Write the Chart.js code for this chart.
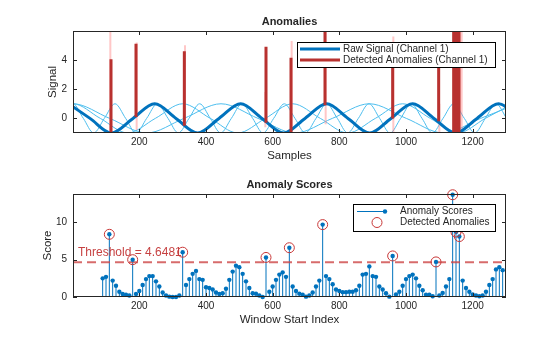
<!DOCTYPE html>
<html>
<head>
<meta charset="utf-8">
<script src="https://cdn.jsdelivr.net/npm/chart.js@4.4.1/dist/chart.umd.min.js"></script>
<style>
  html, body { margin: 0; padding: 0; background: #fff; }
  #wrap { position: relative; width: 560px; height: 337px; }
  canvas { position: absolute; left: 0; }
  #top { top: 0; }
  #bot { top: 168px; }
</style>
</head>
<body>
<div id="wrap">
  <canvas id="top" width="560" height="168" style="width:560px;height:168px"></canvas>
  <canvas id="bot" width="560" height="169" style="width:560px;height:169px"></canvas>
</div>
<script>
// shared x axis
const xMin = 1, xMax = 1300;
const xTicks = [200, 400, 600, 800, 1000, 1200];

// top plot: channel 1 (thick) key points, peaks / zero crossings / troughs
const ch1X = [-12, 52, 116, 181, 246, 310, 375, 439, 504, 568, 633, 697, 762, 826, 891, 955, 1020, 1084, 1149, 1213, 1278, 1342];
const ch1Y = [1, 0, -1, 0, 1, 0, -1, 0, 1, 0, -1, 0, 1, 0, -1, 0, 1, 0, -1, 0, 1, 0];

// other channels (thin light blue)
const ch2X = [-110, 1, 111, 222, 334, 445, 556, 667, 779, 890, 1001, 1112, 1224, 1335];
const ch2Y = [0, 1, 0, -1, 0, 1, 0, -1, 0, 1, 0, -1, 0, 1];
const ch3X = [-82, 1, 83, 165, 248, 330, 413, 495, 578, 660, 743, 825, 908, 990, 1073, 1155, 1238, 1320];
const ch3Y = [0, 1, 0, -1, 0, 1, 0, -1, 0, 1, 0, -1, 0, 1, 0, -1, 0, 1];
const ch4X = [-32, 1, 32, 63, 95, 127, 159, 190, 222, 254, 286, 317, 349, 381, 413, 444, 476, 508, 540, 571, 603,
  635, 667, 698, 730, 762, 794, 825, 857, 889, 921, 952, 984, 1016, 1048, 1079, 1111, 1143, 1175, 1206, 1238, 1270, 1302];
const ch4Y = [0, 1, 0, -1, 0, 1, 0, -1, 0, 1, 0, -1, 0, 1, 0, -1, 0, 1, 0, -1, 0,
  1, 0, -1, 0, 1, 0, -1, 0, 1, 0, -1, 0, 1, 0, -1, 0, 1, 0, -1, 0, 1, 0];

// detected anomalies on channel 1 (red spikes)
const anomX = [115, 190, 335, 580, 655, 757, 960, 1098, 1143, 1147, 1151, 1155, 1159];
const anomLo = [-1, 0.1, -0.5, -0.3, -1, 0.9, 0, -0.2, -1, -1, -1, -1, -1];
const anomHi = [4.05, 5.1, 4.6, 4.9, 4.15, 6.5, 3.5, 3.5, 6.5, 6.5, 6.5, 6.5, 6.5];

// anomalies on the other channels (pale red)
const otherX = [113, 192, 337, 578, 657, 759, 962, 1100, 1147, 1162, 1167];
const otherLo = [-1, -0.8, -0.6, -0.6, -1, -0.4, -1, -1, -1, -1, -1];
const otherHi = [6.5, 5.2, 5.0, 1.8, 5.3, 6.5, 5.6, 1.0, 6.5, 6.5, 6.5];

const sigMin = -1, sigMax = 5.98;
const sigTicks = [0, 2, 4];

// bottom plot: anomaly scores, one per window
const winStart = 90, winStep = 10;
const scores = [
  2.5, 2.7, 8.4, 2.2, 1.5, 0.7, 0.4, 0.3, 0.2, 5.0,
  0.4, 0.8, 1.6, 2.4, 2.8, 2.8, 2.1, 1.4, 0.6, 0.2,
  0.05, 0.0, 0.0, 0.2, 6.0, 1.6, 2.4, 3.1, 3.5, 2.4,
  2.3, 1.3, 1.2, 1.0, 0.6, 0.4, 0.5, 1.1, 2.3, 3.4,
  4.2, 4.0, 3.1, 2.1, 1.2, 0.5, 0.45, 0.2, 0.0, 5.3,
  0.7, 1.4, 2.3, 3.0, 3.3, 2.7, 6.6, 1.4, 0.8, 0.45,
  0.3, 0.05, 0.2, 0.6, 1.4, 2.2, 9.7, 2.8, 2.4, 1.7,
  1.0, 0.8, 0.65, 0.65, 0.7, 0.7, 0.9, 1.5, 3.0, 3.1,
  4.1, 2.8, 2.7, 1.4, 1.0, 0.5, 0.05, 5.5, 0.35, 0.7,
  1.5, 2.4, 2.8, 3.0, 2.5, 1.5, 0.9, 0.3, 0.3, 0.1,
  4.7, 0.2, 0.55, 1.4, 2.4, 13.7, 8.7, 8.1, 2.2, 1.2,
  0.7, 0.35, 0.2, 0.1, 0.2, 0.7, 1.6, 2.4, 3.7, 4.0,
  3.6
];
const detX = [110, 180, 330, 580, 650, 750, 960, 1090, 1140, 1150, 1160];
const detY = [8.4, 5.0, 6.0, 5.3, 6.6, 9.7, 5.5, 4.7, 13.7, 8.7, 8.1];
const threshold = 4.6481;
const scoreMin = 0, scoreMax = 13.8;
const scoreTicks = [0, 5, 10];

const BLUE = '#0072BD', LIGHT = '#4DBEEE', RED = '#B8312F', TXT = '#262626';
const FONT = '"Liberation Sans", Arial, Helvetica, sans-serif';
Chart.defaults.font.family = FONT;
Chart.defaults.font.size = 10;
Chart.defaults.color = TXT;

const pts = (xs, ys) => xs.map((x, i) => ({ x: x, y: ys[i] }));
const segs = (xs, lo, hi) => xs.flatMap((x, i) => [{ x: x, y: lo[i] }, { x: x, y: hi[i] }, { x: x, y: null }]);

function line(data, color, width, extra) {
  return Object.assign({ data: data, borderColor: color, borderWidth: width, pointRadius: 0,
    fill: false, spanGaps: false, tension: 0 }, extra || {});
}

function axes(yMin, yMax, yTicks, lay) {
  return {
    x: {
      type: 'linear', min: xMin, max: xMax, offset: false,
      grid: { display: false, drawTicks: false }, border: { display: false },
      afterBuildTicks: s => { s.ticks = xTicks.map(v => ({ value: v })); },
      afterFit: s => { s.height = lay.xh; },
      ticks: { padding: 3, maxRotation: 0, autoSkip: false, callback: v => String(v) }
    },
    y: {
      type: 'linear', min: yMin, max: yMax,
      grid: { display: false, drawTicks: false }, border: { display: false },
      afterBuildTicks: s => { s.ticks = yTicks.map(v => ({ value: v })); },
      afterFit: s => { s.width = 73 - lay.left; },
      ticks: { padding: 6, callback: v => String(v) }
    }
  };
}

// box, inner ticks, titles and legend
function frame(title, xLabel, yLabel, yLabelX, drawExtra) {
  return {
    id: 'frame',
    afterDatasetsDraw(chart) {
      const { ctx, chartArea: a, scales } = chart;
      ctx.save();
      ctx.strokeStyle = TXT;
      ctx.lineWidth = 1;
      ctx.strokeRect(Math.round(a.left) + 0.5, Math.round(a.top) + 0.5, Math.round(a.width) - 1, Math.round(a.height) - 1);
      ctx.beginPath();
      scales.x.ticks.forEach(t => {
        const p = Math.round(scales.x.getPixelForValue(t.value)) + 0.5;
        ctx.moveTo(p, a.bottom); ctx.lineTo(p, a.bottom - 4);
        ctx.moveTo(p, a.top); ctx.lineTo(p, a.top + 4);
      });
      scales.y.ticks.forEach(t => {
        const p = Math.round(scales.y.getPixelForValue(t.value)) + 0.5;
        ctx.moveTo(a.left, p); ctx.lineTo(a.left + 4, p);
        ctx.moveTo(a.right, p); ctx.lineTo(a.right - 4, p);
      });
      ctx.stroke();

      ctx.fillStyle = TXT;
      ctx.textAlign = 'center';
      ctx.textBaseline = 'middle';
      ctx.font = 'bold 11px ' + FONT;
      ctx.fillText(title, (a.left + a.right) / 2, a.top - 9.5);
      ctx.font = '11.5px ' + FONT;
      ctx.fillText(xLabel, (a.left + a.right) / 2, a.bottom + 22.5);
      ctx.save();
      ctx.translate(yLabelX, (a.top + a.bottom) / 2);
      ctx.rotate(-Math.PI / 2);
      ctx.fillText(yLabel, 0, 0);
      ctx.restore();
      drawExtra(ctx, chart);
      ctx.restore();
    }
  };
}

function legendBox(ctx, x0, y0, x1, y1) {
  ctx.fillStyle = '#fff';
  ctx.fillRect(x0, y0, x1 - x0, y1 - y0);
  ctx.strokeStyle = '#000';
  ctx.lineWidth = 1;
  ctx.strokeRect(x0 + 0.5, y0 + 0.5, x1 - x0, y1 - y0);
}

// ---- top chart
new Chart(document.getElementById('top'), {
  type: 'line',
  data: {
    datasets: [
      line(segs(anomX, anomLo, anomHi), RED, 3),
      line(pts(ch1X, ch1Y), BLUE, 3, { cubicInterpolationMode: 'monotone' }),
      line(segs(otherX, otherLo, otherHi), 'rgba(255,130,130,0.45)', 2),
      line(pts(ch2X, ch2Y), LIGHT, 1, { cubicInterpolationMode: 'monotone' }),
      line(pts(ch3X, ch3Y), LIGHT, 1, { cubicInterpolationMode: 'monotone' }),
      line(pts(ch4X, ch4Y), LIGHT, 1, { cubicInterpolationMode: 'monotone' })
    ]
  },
  options: {
    responsive: false, animation: false, devicePixelRatio: 1, events: [],
    layout: { padding: { left: 40, right: 54, top: 31, bottom: 0 } },
    plugins: { legend: { display: false }, tooltip: { enabled: false } },
    scales: axes(sigMin, sigMax, sigTicks, { left: 40, xh: 35 })
  },
  plugins: [frame('Anomalies', 'Samples', 'Signal', 53, ctx => {
    legendBox(ctx, 297, 42, 495, 67);
    ctx.lineWidth = 3;
    ctx.strokeStyle = BLUE;
    ctx.beginPath(); ctx.moveTo(300, 49); ctx.lineTo(340, 49); ctx.stroke();
    ctx.strokeStyle = RED;
    ctx.beginPath(); ctx.moveTo(300, 60); ctx.lineTo(340, 60); ctx.stroke();
    ctx.fillStyle = TXT;
    ctx.font = '10px ' + FONT;
    ctx.textAlign = 'left';
    ctx.fillText('Raw Signal (Channel 1)', 343, 49);
    ctx.fillText('Detected Anomalies (Channel 1)', 343, 60);
  })]
});

// ---- bottom chart
const scoreX = scores.map((_, i) => winStart + winStep * i);
const zeros = scores.map(() => 0);

new Chart(document.getElementById('bot'), {
  type: 'line',
  data: {
    datasets: [
      line(pts(detX, detY), '#C83737', 1, { showLine: false, pointRadius: 5, pointBorderColor: '#C83737',
        pointBackgroundColor: 'rgba(0,0,0,0)', pointBorderWidth: 1, clip: false }),
      line(pts(scoreX, scores), BLUE, 1, { showLine: false, pointRadius: 2.2, pointBackgroundColor: BLUE,
        pointBorderWidth: 0, clip: false }),
      line(pts([xMin, xMax], [threshold, threshold]), 'rgba(205,70,70,0.8)', 2, { borderDash: [9, 5] }),
      line(segs(scoreX, zeros, scores), BLUE, 1)
    ]
  },
  options: {
    responsive: false, animation: false, devicePixelRatio: 1, events: [],
    layout: { padding: { left: 35, right: 54, top: 26, bottom: 0 } },
    plugins: { legend: { display: false }, tooltip: { enabled: false } },
    scales: axes(scoreMin, scoreMax, scoreTicks, { left: 35, xh: 40 })
  },
  plugins: [frame('Anomaly Scores', 'Window Start Index', 'Score', 48, (ctx, chart) => {
    const a = chart.chartArea;
    const ty = chart.scales.y.getPixelForValue(threshold);
    ctx.fillStyle = 'rgba(195,55,55,0.95)';
    ctx.font = '12px ' + FONT;
    ctx.textAlign = 'left';
    ctx.textBaseline = 'alphabetic';
    ctx.fillText('Threshold = ' + threshold, a.left + 5, ty - 6);

    legendBox(ctx, 353, 36, 495, 63);
    ctx.strokeStyle = BLUE; ctx.lineWidth = 1;
    ctx.beginPath(); ctx.moveTo(357, 43.5); ctx.lineTo(385, 43.5); ctx.stroke();
    ctx.fillStyle = BLUE;
    ctx.beginPath(); ctx.arc(385, 43.5, 2.2, 0, Math.PI * 2); ctx.fill();
    ctx.strokeStyle = '#C83737';
    ctx.beginPath(); ctx.arc(377, 54.5, 5, 0, Math.PI * 2); ctx.stroke();
    ctx.fillStyle = TXT;
    ctx.font = '10px ' + FONT;
    ctx.textBaseline = 'middle';
    ctx.fillText('Anomaly Scores', 400, 43.5);
    ctx.fillText('Detected Anomalies', 400, 54.5);
  })]
});
</script>
</body>
</html>
